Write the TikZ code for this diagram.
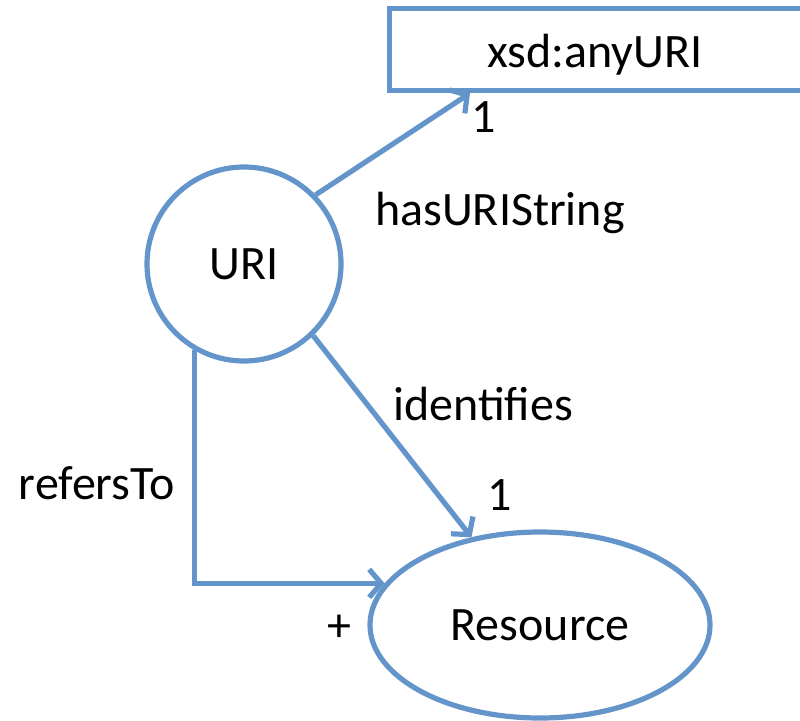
\documentclass[tikz,border=0pt]{standalone}
\usepackage{fontspec}
\setmainfont{Carlito}
\usetikzlibrary{arrows.meta,shapes.geometric}
\definecolor{lineblue}{RGB}{99,149,202}
\tikzset{
  every node/.style={font=\fontsize{48}{56}\selectfont, inner sep=0pt},
  shapeline/.style={draw=lineblue, line width=5.2pt},
  conn/.style={draw=lineblue, line width=5.2pt, -{Straight Barb[length=12pt,width=28pt,line width=5.2pt]}},
}
\begin{document}
\begin{tikzpicture}[x=1pt,y=-1pt]
\useasboundingbox (0,0) rectangle (800,720);
\clip (0,0) rectangle (800,720);
\node[shapeline, rectangle, minimum width=430, minimum height=82, anchor=north west] (xsd) at (387,6) {};
\node at (595,55) (xsdtext) {xsd:anyURI};
\node[shapeline, circle, minimum size=194] (uri) at (244,264) {URI};
\node[shapeline, ellipse, minimum width=340, minimum height=186] (res) at (540,625) {Resource};
\draw[conn] (uri.44) -- ([xshift=83pt]xsd.south west);
\draw[conn] (uri.-46) -- (res.128);
\draw[conn] (uri.240) |- (res.165);
\node (m1) at (484,117) {1};
\node (lhas) at (500,213) {hasURIString};
\node (lid) at (483,404) {identifies};
\node (m2) at (500,495) {1};
\node (lref) at (97,483) {refersTo};
\node (plus) at (339,628) {+};
\end{tikzpicture}
\end{document}
